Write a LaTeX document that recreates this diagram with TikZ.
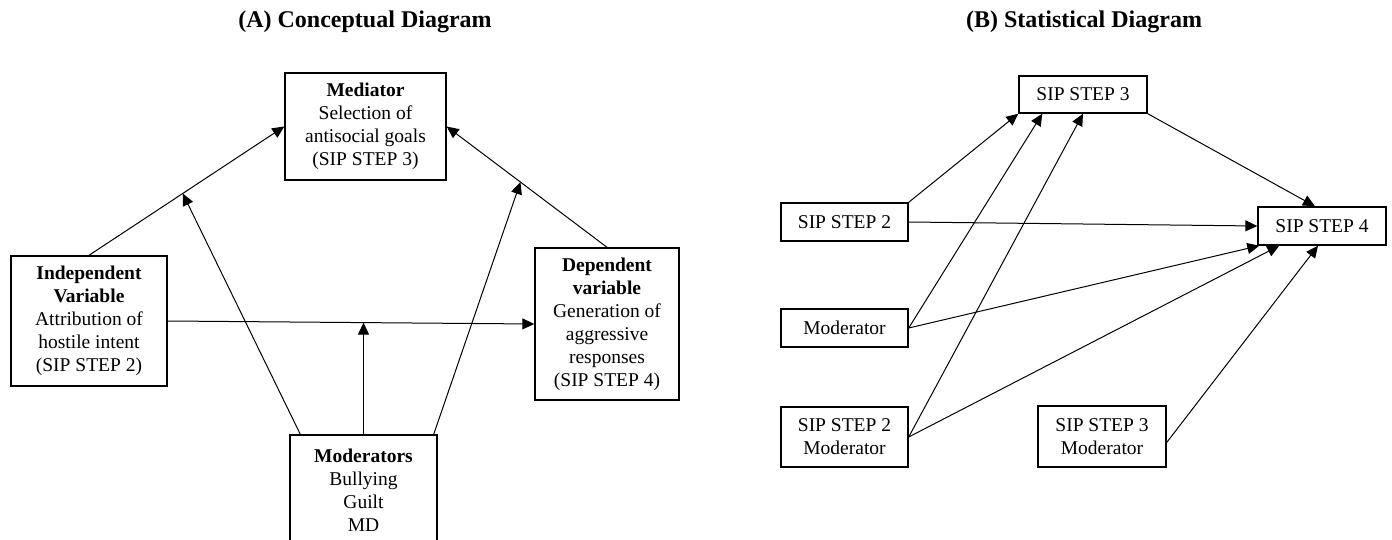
\documentclass[tikz,border=0pt]{standalone}
\usepackage{fontspec}
\setmainfont{Liberation Serif}
\usepackage{tikz}
\usetikzlibrary{shapes,arrows.meta,positioning}

\begin{document}
\begin{tikzpicture}[x=0.5pt, y=-0.5pt, >={Triangle[length=6pt,width=5.5pt]},
    box/.style={draw, rectangle, line width=0.7pt, inner sep=0pt, align=center,
        font=\fontsize{9.75}{11.5}\selectfont},
    title/.style={font=\fontsize{12}{14}\selectfont\bfseries},
    every path/.style={line width=0.5pt}]
    \useasboundingbox (0,0) rectangle (1392,540);

    % (A) conceptual
    \node (titleA) [title] at (365,22) {(A) Conceptual Diagram};
    \node (med) [box, minimum width=80.5pt, minimum height=53.5pt] at (365.5,126.5)
        {\textbf{Mediator}\\Selection of\\antisocial goals\\(SIP STEP 3)};
    \node (iv) [box, minimum width=78pt, minimum height=65pt] at (89,321)
        {\textbf{Independent}\\\textbf{Variable}\\Attribution of\\hostile intent\\(SIP STEP 2)};
    \node (dv) [box, minimum width=72pt, minimum height=76pt] at (607,324)
        {\textbf{Dependent}\\\textbf{variable}\\Generation of\\aggressive\\responses\\(SIP STEP 4)};
    \node (mods) [box, minimum width=73.5pt, minimum height=55.5pt] at (363.5,490.5)
        {\textbf{Moderators}\\Bullying\\Guilt\\MD};

    \draw[->] (iv.north) -- (med.west) coordinate[pos=0.48] (ivmed);
    \draw[->] (dv.north) -- (med.east) coordinate[pos=0.54] (dvmed);
    \draw[->] (iv.east) -- (dv.west) coordinate[pos=0.54] (ivdv);
    \draw[->] ([xshift=5.5pt]mods.north west) -- (ivmed);
    \draw[->] (mods.north) -- (mods.north |- ivdv);
    \draw[->] ([xshift=-2pt]mods.north east) -- (dvmed);

    % (B) statistical
    \node (titleB) [title] at (1084,22) {(B) Statistical Diagram};
    \node (s3) [box, minimum width=64pt, minimum height=18.5pt] at (1083,94.5) {SIP STEP 3};
    \node (s2) [box, minimum width=63.5pt, minimum height=19pt] at (844.5,222) {SIP STEP 2};
    \node (s4) [box, minimum width=64pt, minimum height=19pt] at (1322,226) {SIP STEP 4};
    \node (mod) [box, minimum width=63.5pt, minimum height=19pt] at (844.5,328) {Moderator};
    \node (s2mod) [box, minimum width=63.5pt, minimum height=30pt] at (844.5,437) {SIP STEP 2\\Moderator};
    \node (s3mod) [box, minimum width=64pt, minimum height=30.5pt] at (1102,436.5) {SIP STEP 3\\Moderator};

    \draw[->] (s2.north east) -- (s3.south west);
    \draw[->] (mod.east) -- ([xshift=12pt]s3.south west);
    \draw[->] (s2mod.east) -- (s3.south);
    \draw[->] (s2.east) -- (s4.west);
    \draw[->] (s3.south east) -- ([xshift=-3.5pt]s4.north);
    \draw[->] (mod.east) -- ([xshift=1pt]s4.south west);
    \draw[->] (s2mod.east) -- ([xshift=11pt]s4.south west);
    \draw[->] ([yshift=-3pt]s3mod.east) -- ([xshift=-2pt]s4.south);
\end{tikzpicture}
\end{document}
